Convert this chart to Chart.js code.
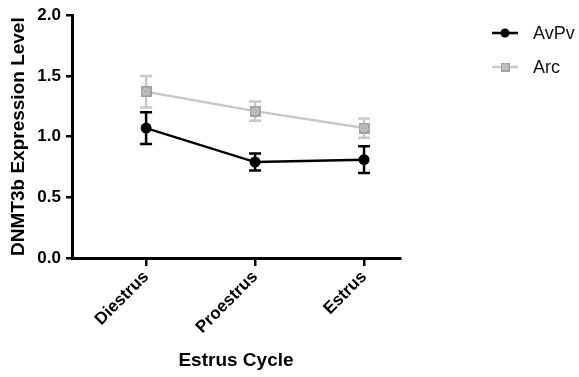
<!DOCTYPE html>
<html>
<head>
<meta charset="utf-8">
<script src="https://cdn.jsdelivr.net/npm/chart.js@4/dist/chart.umd.min.js"></script>
<style>
  html, body { margin: 0; padding: 0; background: #fff; }
  #wrap { position: relative; width: 579px; height: 377px; }
</style>
</head>
<body>
<div id="wrap"><canvas id="chart"></canvas></div>
<script>
// Data
const categories = ["Diestrus", "Proestrus", "Estrus"];
const avpvMean = [1.07, 0.79, 0.81];
const avpvErr  = [0.13, 0.07, 0.11];
const arcMean  = [1.37, 1.21, 1.07];
const arcErr   = [0.13, 0.08, 0.08];
const yTicks   = [0, 0.5, 1.0, 1.5, 2.0];

const FONT = "'Liberation Sans', Arial, Helvetica, sans-serif";

// grey square marker with a light crossed circle
function arcMarker(size) {
    const c = document.createElement("canvas");
    c.width = size; c.height = size;
    const g = c.getContext("2d");
    const m = size / 2;
    g.fillStyle = "#a3a3a3";
    g.fillRect(0, 0, size, size);
    g.strokeStyle = "#d9d9d9";
    g.lineWidth = 1;
    g.beginPath(); g.arc(m, m, size * 0.3, 0, Math.PI * 2); g.stroke();
    g.beginPath();
    g.moveTo(m - 2.5, m - 2.5); g.lineTo(m + 2.5, m + 2.5);
    g.moveTo(m + 2.5, m - 2.5); g.lineTo(m - 2.5, m + 2.5);
    g.stroke();
    return c;
}
const arcPoint = arcMarker(11);
const arcLegendPoint = arcMarker(9);

const toPoints = arr => arr.map((v, i) => ({ x: i, y: v }));

// error bars, drawn under the markers
const errorBars = {
    id: "errorBars",
    beforeDatasetsDraw(chart) {
        const ctx = chart.ctx;
        const xs = chart.scales.x, ys = chart.scales.y;
        chart.data.datasets.forEach(ds => {
            ctx.save();
            ctx.strokeStyle = ds.errColor;
            ctx.lineWidth = 2.5;
            ds.data.forEach((p, i) => {
                const x = xs.getPixelForValue(p.x);
                const hi = ys.getPixelForValue(p.y + ds.err[i]);
                const lo = ys.getPixelForValue(p.y - ds.err[i]);
                ctx.beginPath();
                ctx.moveTo(x, hi); ctx.lineTo(x, lo);
                ctx.moveTo(x - 6, hi); ctx.lineTo(x + 6, hi);
                ctx.moveTo(x - 6, lo); ctx.lineTo(x + 6, lo);
                ctx.stroke();
            });
            ctx.restore();
        });
    }
};

// legend on the right, line + marker + name
const sideLegend = {
    id: "sideLegend",
    afterDraw(chart) {
        const ctx = chart.ctx;
        chart.data.datasets.forEach((ds, i) => {
            const y = 33 + i * 34;
            ctx.save();
            ctx.strokeStyle = ds.borderColor;
            ctx.lineWidth = 2.5;
            ctx.beginPath(); ctx.moveTo(492, y); ctx.lineTo(518, y); ctx.stroke();
            Chart.helpers.drawPoint(ctx, {
                pointStyle: ds.legendStyle, radius: 4.5, borderWidth: 0
            }, 505, y);
            ctx.fillStyle = "#111";
            ctx.font = "18px " + FONT;
            ctx.textBaseline = "middle";
            ctx.fillText(ds.label, 533, y + 1);
            ctx.restore();
        });
    }
};

new Chart(document.getElementById("chart"), {
    type: "line",
    data: {
        datasets: [
            {
                label: "AvPv", data: toPoints(avpvMean), err: avpvErr, errColor: "#000",
                borderColor: "#000", backgroundColor: "#000", borderWidth: 2.5,
                pointStyle: "circle", legendStyle: "circle", pointRadius: 5.5,
                pointBackgroundColor: "#000", pointBorderWidth: 0
            },
            {
                label: "Arc", data: toPoints(arcMean), err: arcErr, errColor: "#c8c8c8",
                borderColor: "#c8c8c8", backgroundColor: "#a3a3a3", borderWidth: 2.5,
                pointStyle: arcPoint, legendStyle: arcLegendPoint, pointRadius: 5.5
            }
        ]
    },
    options: {
        responsive: true,
        maintainAspectRatio: false,
        animation: false,
        layout: { padding: { top: 15, right: 179, left: 0, bottom: 0 } },
        plugins: { legend: { display: false }, tooltip: { enabled: false } },
        scales: {
            x: {
                type: "linear",
                min: -0.68, max: 2.33,
                afterBuildTicks: s => { s.ticks = categories.map((c, i) => ({ value: i })); },
                afterFit: s => { s.height = 119; },
                border: { color: "#000", width: 3 },
                grid: { drawOnChartArea: false, drawTicks: true, tickLength: 8, color: "#000", lineWidth: 2.5 },
                ticks: {
                    callback: v => categories[v],
                    minRotation: 45, maxRotation: 45, padding: 1,
                    color: "#000", font: { family: FONT, size: 17, weight: "bold" }
                },
                title: {
                    display: true, text: "Estrus Cycle", color: "#000",
                    padding: { top: 4, bottom: 5 },
                    font: { family: FONT, size: 19, weight: "bold" }
                }
            },
            y: {
                min: 0, max: 2.0,
                afterBuildTicks: s => { s.ticks = yTicks.map(v => ({ value: v })); },
                afterFit: s => { s.width = 72; },
                border: { color: "#000", width: 3 },
                grid: { drawOnChartArea: false, drawTicks: true, tickLength: 6, color: "#000", lineWidth: 2.5 },
                ticks: {
                    callback: v => v.toFixed(1), padding: 5,
                    color: "#000", font: { family: FONT, size: 17, weight: "bold" }
                },
                title: {
                    display: true, text: "DNMT3b Expression Level", color: "#000",
                    padding: { top: 7, bottom: 0 },
                    font: { family: FONT, size: 19, weight: "bold" }
                }
            }
        }
    },
    plugins: [errorBars, sideLegend]
});
</script>
</body>
</html>
